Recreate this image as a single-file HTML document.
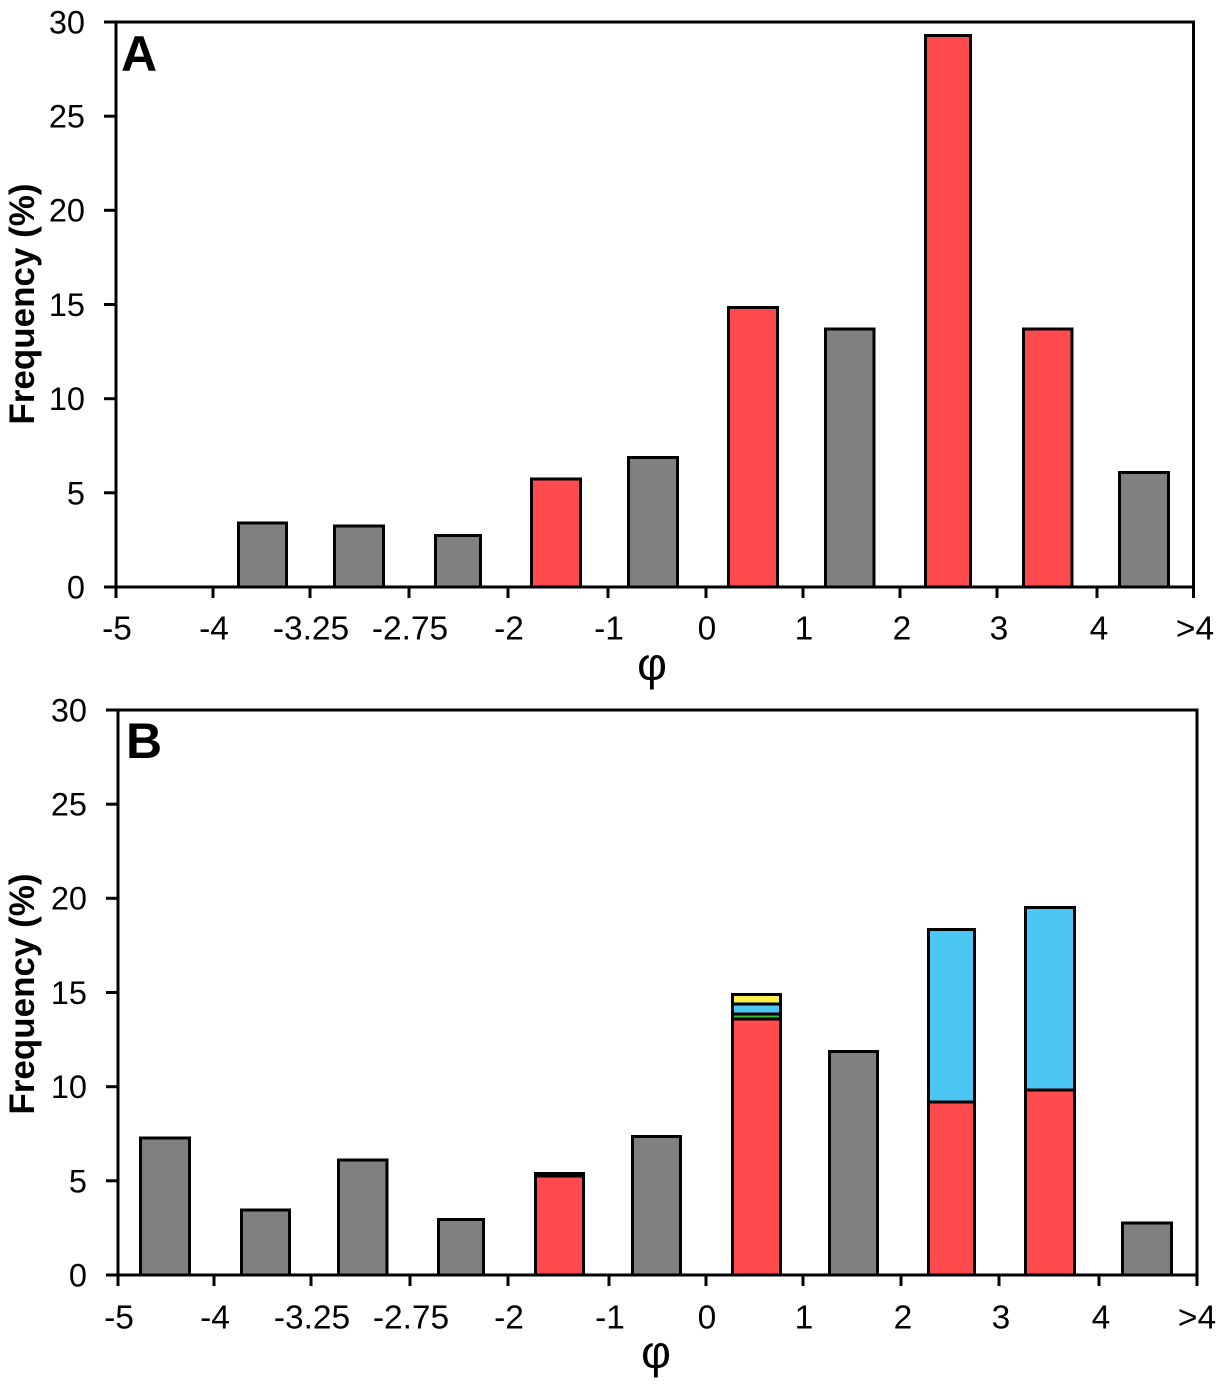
<!DOCTYPE html>
<html>
<head>
<meta charset="utf-8">
<style>
html,body{margin:0;padding:0;background:#fff;}
svg{display:block;}
text{font-family:"Liberation Sans",Arial,sans-serif;fill:#000;}
</style>
</head>
<body>
<svg width="1221" height="1384" viewBox="0 0 1221 1384" xmlns="http://www.w3.org/2000/svg">
<rect x="0" y="0" width="1221" height="1384" fill="#fff"/>

<!-- ================= PANEL A ================= -->
<g stroke="#000" stroke-width="3" stroke-linejoin="miter">
  <rect x="238.5" y="523" width="48" height="64" fill="#808080"/>
  <rect x="334.5" y="526" width="49" height="61" fill="#808080"/>
  <rect x="435.5" y="535.5" width="45" height="51.5" fill="#808080"/>
  <rect x="531.5" y="479" width="49" height="108" fill="#FF4B4E"/>
  <rect x="628.5" y="457.5" width="49" height="129.5" fill="#808080"/>
  <rect x="728.5" y="307.5" width="49" height="279.5" fill="#FF4B4E"/>
  <rect x="825.5" y="329" width="48.5" height="258" fill="#808080"/>
  <rect x="925.5" y="35.5" width="45" height="551.5" fill="#FF4B4E"/>
  <rect x="1023.5" y="329" width="48.5" height="258" fill="#FF4B4E"/>
  <rect x="1119.5" y="472.5" width="49" height="114.5" fill="#808080"/>
</g>
<g stroke="#000" stroke-width="3" fill="none">
  <path d="M116 22 H1193.5 V587"/>
  <line x1="116" y1="20.5" x2="116" y2="588.5"/>
  <line x1="104" y1="587" x2="1195" y2="587"/>
  <line x1="104" y1="22" x2="116" y2="22"/>
  <line x1="104" y1="116.2" x2="116" y2="116.2"/>
  <line x1="104" y1="210.3" x2="116" y2="210.3"/>
  <line x1="104" y1="304.5" x2="116" y2="304.5"/>
  <line x1="104" y1="398.7" x2="116" y2="398.7"/>
  <line x1="104" y1="492.8" x2="116" y2="492.8"/>
  <line x1="116" y1="587" x2="116" y2="598"/>
  <line x1="213" y1="587" x2="213" y2="598"/>
  <line x1="310" y1="587" x2="310" y2="598"/>
  <line x1="409" y1="587" x2="409" y2="598"/>
  <line x1="508" y1="587" x2="508" y2="598"/>
  <line x1="608" y1="587" x2="608" y2="598"/>
  <line x1="706" y1="587" x2="706" y2="598"/>
  <line x1="803" y1="587" x2="803" y2="598"/>
  <line x1="900" y1="587" x2="900" y2="598"/>
  <line x1="997" y1="587" x2="997" y2="598"/>
  <line x1="1097" y1="587" x2="1097" y2="598"/>
  <line x1="1193.5" y1="587" x2="1193.5" y2="598"/>
</g>
<g font-size="32.5" text-anchor="end">
  <text x="85" y="33.5">30</text>
  <text x="85" y="127.5">25</text>
  <text x="85" y="221.5">20</text>
  <text x="85" y="316">15</text>
  <text x="85" y="410">10</text>
  <text x="85" y="504.5">5</text>
  <text x="85" y="598.5">0</text>
</g>
<g font-size="33.5" text-anchor="middle">
  <text x="117" y="639.5">-5</text>
  <text x="214" y="639.5">-4</text>
  <text x="311" y="639.5">-3.25</text>
  <text x="410" y="639.5">-2.75</text>
  <text x="509" y="639.5">-2</text>
  <text x="609" y="639.5">-1</text>
  <text x="707" y="639.5">0</text>
  <text x="804" y="639.5">1</text>
  <text x="902" y="639.5">2</text>
  <text x="999" y="639.5">3</text>
  <text x="1099" y="639.5">4</text>
  <text x="1195" y="639.5">&gt;4</text>
</g>
<text x="652" y="680" font-size="46" text-anchor="middle">φ</text>
<text transform="translate(34,304) rotate(-90)" font-size="35" font-weight="bold" text-anchor="middle">Frequency (%)</text>
<text x="121" y="71" font-size="50" font-weight="bold">A</text>

<!-- ================= PANEL B ================= -->
<g stroke="#000" stroke-width="3" stroke-linejoin="miter">
  <rect x="140.5" y="1138" width="49" height="137" fill="#808080"/>
  <rect x="241.5" y="1210" width="48" height="65" fill="#808080"/>
  <rect x="338.5" y="1160" width="48.5" height="115" fill="#808080"/>
  <rect x="438.5" y="1219.5" width="45" height="55.5" fill="#808080"/>
  <rect x="535.5" y="1176" width="48" height="99" fill="#FF4B4E"/>
  <rect x="535.5" y="1173.5" width="48" height="2.5" fill="#000"/>
  <rect x="632.5" y="1136.5" width="48" height="138.5" fill="#808080"/>
  <rect x="732.5" y="1019" width="48" height="256" fill="#FF4B4E"/>
  <rect x="732.5" y="1014" width="48" height="5" fill="#3DB83D"/>
  <rect x="732.5" y="1004" width="48" height="10" fill="#4CC6F2"/>
  <rect x="732.5" y="994.5" width="48" height="9.5" fill="#FFF04A"/>
  <rect x="829.5" y="1051.5" width="48" height="223.5" fill="#808080"/>
  <rect x="928.5" y="1102" width="46" height="173" fill="#FF4B4E"/>
  <rect x="928.5" y="929.5" width="46" height="172.5" fill="#4CC6F2"/>
  <rect x="1025.5" y="1090" width="49" height="185" fill="#FF4B4E"/>
  <rect x="1025.5" y="907.5" width="49" height="182.5" fill="#4CC6F2"/>
  <rect x="1122.5" y="1223" width="49" height="52" fill="#808080"/>
</g>
<g stroke="#000" stroke-width="3" fill="none">
  <path d="M118 710 H1197 V1275"/>
  <line x1="118" y1="708.5" x2="118" y2="1276.5"/>
  <line x1="106" y1="1275" x2="1198.5" y2="1275"/>
  <line x1="106" y1="710" x2="118" y2="710"/>
  <line x1="106" y1="804.2" x2="118" y2="804.2"/>
  <line x1="106" y1="898.3" x2="118" y2="898.3"/>
  <line x1="106" y1="992.5" x2="118" y2="992.5"/>
  <line x1="106" y1="1086.7" x2="118" y2="1086.7"/>
  <line x1="106" y1="1180.8" x2="118" y2="1180.8"/>
  <line x1="118" y1="1275" x2="118" y2="1286"/>
  <line x1="214" y1="1275" x2="214" y2="1286"/>
  <line x1="311" y1="1275" x2="311" y2="1286"/>
  <line x1="410" y1="1275" x2="410" y2="1286"/>
  <line x1="508" y1="1275" x2="508" y2="1286"/>
  <line x1="609" y1="1275" x2="609" y2="1286"/>
  <line x1="706" y1="1275" x2="706" y2="1286"/>
  <line x1="803" y1="1275" x2="803" y2="1286"/>
  <line x1="901" y1="1275" x2="901" y2="1286"/>
  <line x1="999" y1="1275" x2="999" y2="1286"/>
  <line x1="1099" y1="1275" x2="1099" y2="1286"/>
  <line x1="1197" y1="1275" x2="1197" y2="1286"/>
</g>
<g font-size="32.5" text-anchor="end">
  <text x="87" y="721.5">30</text>
  <text x="87" y="815.5">25</text>
  <text x="87" y="909.5">20</text>
  <text x="87" y="1004">15</text>
  <text x="87" y="1098">10</text>
  <text x="87" y="1192.5">5</text>
  <text x="87" y="1286.5">0</text>
</g>
<g font-size="33.5" text-anchor="middle">
  <text x="119" y="1328.5">-5</text>
  <text x="215" y="1328.5">-4</text>
  <text x="312" y="1328.5">-3.25</text>
  <text x="411" y="1328.5">-2.75</text>
  <text x="509" y="1328.5">-2</text>
  <text x="610" y="1328.5">-1</text>
  <text x="707" y="1328.5">0</text>
  <text x="804" y="1328.5">1</text>
  <text x="903" y="1328.5">2</text>
  <text x="1001" y="1328.5">3</text>
  <text x="1101" y="1328.5">4</text>
  <text x="1197" y="1328.5">&gt;4</text>
</g>
<text x="656" y="1368" font-size="46" text-anchor="middle">φ</text>
<text transform="translate(34,994) rotate(-90)" font-size="35" font-weight="bold" text-anchor="middle">Frequency (%)</text>
<text x="126" y="758" font-size="50" font-weight="bold">B</text>
</svg>
</body>
</html>
